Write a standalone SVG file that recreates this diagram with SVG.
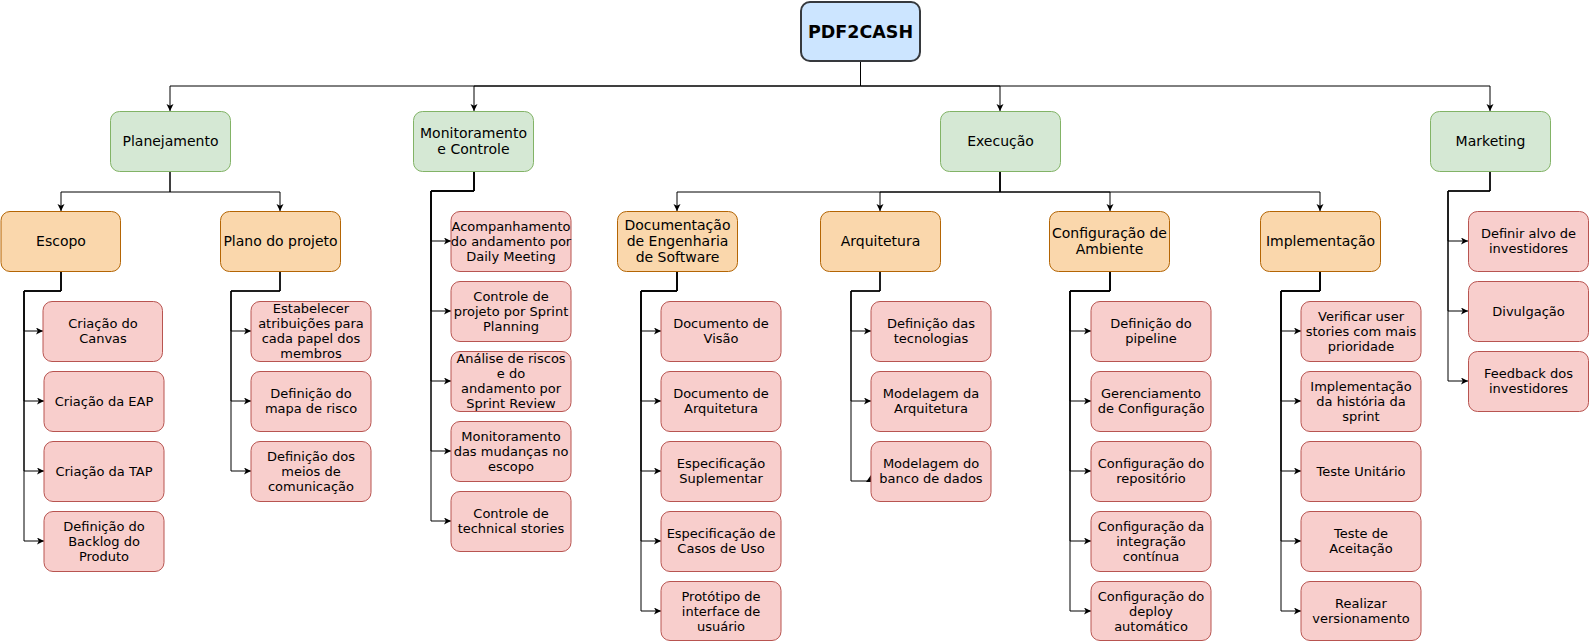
<svg xmlns="http://www.w3.org/2000/svg" width="1589" height="642" viewBox="0 0 1589 642">
<style>
.root{fill:#cce5ff;stroke:#36393d;stroke-width:2}
.g{fill:#d5e8d4;stroke:#82b366;stroke-width:1}
.o{fill:#fad7ac;stroke:#b46504;stroke-width:1}
.r{fill:#f8cecc;stroke:#b85450;stroke-width:1}
text{font-family:"DejaVu Sans","Liberation Sans",sans-serif;fill:#000;text-anchor:middle}
.t14{font-size:14px}
.t13{font-size:13px}
.tb{font-size:17.5px;font-weight:bold}
.e{fill:none;stroke:#000;stroke-width:1;marker-end:url(#arr)}
</style>
<defs>
<marker id="arr" markerWidth="10" markerHeight="10" refX="7" refY="3.5" orient="auto" markerUnits="userSpaceOnUse"><path d="M0,0 L7,3.5 L0,7 L1.8,3.5 Z" fill="#000"/></marker>
</defs>
<rect width="1589" height="642" fill="#fff"/>
<g id="connectors">
<path class="e" d="M860.5 62 V86 H170 V111"/>
<path class="e" d="M860.5 62 V86 H474 V111"/>
<path class="e" d="M860.5 62 V86 H1000 V111"/>
<path class="e" d="M860.5 62 V86 H1490 V111"/>
<path class="e" d="M170 171 V192 H61 V211"/>
<path class="e" d="M170 171 V192 H280 V211"/>
<path class="e" d="M1000 171 V192 H677 V211"/>
<path class="e" d="M1000 171 V192 H880 V211"/>
<path class="e" d="M1000 171 V192 H1110 V211"/>
<path class="e" d="M1000 171 V192 H1320 V211"/>
<path class="e" d="M61 271 V291 H24 V331 H43"/>
<path class="e" d="M61 271 V291 H24 V401 H44"/>
<path class="e" d="M61 271 V291 H24 V471 H44"/>
<path class="e" d="M61 271 V291 H24 V541 H44"/>
<path class="e" d="M280 271 V291 H231 V331 H251"/>
<path class="e" d="M280 271 V291 H231 V401 H251"/>
<path class="e" d="M280 271 V291 H231 V471 H251"/>
<path class="e" d="M474 171 V191 H431 V241 H451"/>
<path class="e" d="M474 171 V191 H431 V311 H451"/>
<path class="e" d="M474 171 V191 H431 V381 H451"/>
<path class="e" d="M474 171 V191 H431 V451 H451"/>
<path class="e" d="M474 171 V191 H431 V521 H451"/>
<path class="e" d="M677 271 V291 H641 V331 H661"/>
<path class="e" d="M677 271 V291 H641 V401 H661"/>
<path class="e" d="M677 271 V291 H641 V471 H661"/>
<path class="e" d="M677 271 V291 H641 V541 H661"/>
<path class="e" d="M677 271 V291 H641 V611 H661"/>
<path class="e" d="M880 271 V291 H851 V331 H871"/>
<path class="e" d="M880 271 V291 H851 V401 H871"/>
<path d="M880 271 V291 H851 V481 H868" fill="none" stroke="#000" stroke-width="1"/>
<path d="M866 482 L871 475 L871 482 Z" fill="#000"/>
<path class="e" d="M1110 271 V291 H1070 V331 H1091"/>
<path class="e" d="M1110 271 V291 H1070 V401 H1091"/>
<path class="e" d="M1110 271 V291 H1070 V471 H1091"/>
<path class="e" d="M1110 271 V291 H1070 V541 H1091"/>
<path class="e" d="M1110 271 V291 H1070 V611 H1091"/>
<path class="e" d="M1320 271 V291 H1281 V331 H1301"/>
<path class="e" d="M1320 271 V291 H1281 V401 H1301"/>
<path class="e" d="M1320 271 V291 H1281 V471 H1301"/>
<path class="e" d="M1320 271 V291 H1281 V541 H1301"/>
<path class="e" d="M1320 271 V291 H1281 V611 H1301"/>
<path class="e" d="M1490 171 V191 H1448 V241 H1468"/>
<path class="e" d="M1490 171 V191 H1448 V311 H1468"/>
<path class="e" d="M1490 171 V191 H1448 V381 H1468"/>
</g>
<g id="pdf2cash"><rect class="root" x="801" y="2" width="119" height="59" rx="9"/><text class="tb" x="860.5" y="38">PDF2CASH</text></g>
<g id="planejamento"><rect class="g" x="110.5" y="111.5" width="120" height="60" rx="9"/><text class="t14" x="170.5" y="146">Planejamento</text></g>
<g id="monitoramento"><rect class="g" x="413.5" y="111.5" width="120" height="60" rx="9"/><text class="t14"><tspan x="473.5" y="138">Monitoramento</tspan><tspan x="473.5" y="154">e Controle</tspan></text></g>
<g id="execucao"><rect class="g" x="940.5" y="111.5" width="120" height="60" rx="9"/><text class="t14" x="1000.5" y="146">Execução</text></g>
<g id="marketing"><rect class="g" x="1430.5" y="111.5" width="120" height="60" rx="9"/><text class="t14" x="1490.5" y="146">Marketing</text></g>
<g id="escopo"><rect class="o" x="1" y="211.5" width="119.5" height="60" rx="9"/><text class="t14" x="61" y="246">Escopo</text></g>
<g id="plano"><rect class="o" x="220.5" y="211.5" width="120" height="60" rx="9"/><text class="t14" x="280.5" y="246">Plano do projeto</text></g>
<g id="documentacao"><rect class="o" x="617.5" y="211.5" width="120" height="60" rx="9"/><text class="t14"><tspan x="677.5" y="230">Documentação</tspan><tspan x="677.5" y="246">de Engenharia</tspan><tspan x="677.5" y="262">de Software</tspan></text></g>
<g id="arquitetura"><rect class="o" x="820.5" y="211.5" width="120" height="60" rx="9"/><text class="t14" x="880.5" y="246">Arquitetura</text></g>
<g id="configuracao"><rect class="o" x="1049.5" y="211.5" width="120" height="60" rx="9"/><text class="t14"><tspan x="1109.5" y="238">Configuração de</tspan><tspan x="1109.5" y="254">Ambiente</tspan></text></g>
<g id="implementacao"><rect class="o" x="1260.5" y="211.5" width="120" height="60" rx="9"/><text class="t14" x="1320.5" y="246">Implementação</text></g>
<g id="canvas"><rect class="r" x="43" y="301.5" width="119.5" height="60" rx="9"/><text class="t13"><tspan x="103" y="328">Criação do</tspan><tspan x="103" y="343">Canvas</tspan></text></g>
<g id="eap"><rect class="r" x="44" y="371.5" width="120" height="60" rx="9"/><text class="t13" x="104" y="405.5">Criação da EAP</text></g>
<g id="tap"><rect class="r" x="44" y="441.5" width="120" height="60" rx="9"/><text class="t13" x="104" y="475.5">Criação da TAP</text></g>
<g id="backlog"><rect class="r" x="44" y="511.5" width="120" height="60" rx="9"/><text class="t13"><tspan x="104" y="530.5">Definição do</tspan><tspan x="104" y="545.5">Backlog do</tspan><tspan x="104" y="560.5">Produto</tspan></text></g>
<g id="atribuicoes"><rect class="r" x="251" y="301.5" width="120" height="60" rx="9"/><text class="t13"><tspan x="311" y="313">Estabelecer</tspan><tspan x="311" y="328">atribuições para</tspan><tspan x="311" y="343">cada papel dos</tspan><tspan x="311" y="358">membros</tspan></text></g>
<g id="mapa-risco"><rect class="r" x="251" y="371.5" width="120" height="60" rx="9"/><text class="t13"><tspan x="311" y="398">Definição do</tspan><tspan x="311" y="413">mapa de risco</tspan></text></g>
<g id="meios-comunicacao"><rect class="r" x="251" y="441.5" width="120" height="60" rx="9"/><text class="t13"><tspan x="311" y="460.5">Definição dos</tspan><tspan x="311" y="475.5">meios de</tspan><tspan x="311" y="490.5">comunicação</tspan></text></g>
<g id="daily"><rect class="r" x="451" y="211.5" width="120" height="60" rx="9"/><text class="t13"><tspan x="511" y="230.5">Acompanhamento</tspan><tspan x="511" y="245.5">do andamento por</tspan><tspan x="511" y="260.5">Daily Meeting</tspan></text></g>
<g id="planning"><rect class="r" x="451" y="281.5" width="120" height="60" rx="9"/><text class="t13"><tspan x="511" y="300.5">Controle de</tspan><tspan x="511" y="315.5">projeto por Sprint</tspan><tspan x="511" y="330.5">Planning</tspan></text></g>
<g id="review"><rect class="r" x="451" y="351.5" width="120" height="60" rx="9"/><text class="t13"><tspan x="511" y="363">Análise de riscos</tspan><tspan x="511" y="378">e do</tspan><tspan x="511" y="393">andamento por</tspan><tspan x="511" y="408">Sprint Review</tspan></text></g>
<g id="mudancas"><rect class="r" x="451" y="421.5" width="120" height="60" rx="9"/><text class="t13"><tspan x="511" y="440.5">Monitoramento</tspan><tspan x="511" y="455.5">das mudanças no</tspan><tspan x="511" y="470.5">escopo</tspan></text></g>
<g id="technical"><rect class="r" x="451" y="491.5" width="120" height="60" rx="9"/><text class="t13"><tspan x="511" y="518">Controle de</tspan><tspan x="511" y="533">technical stories</tspan></text></g>
<g id="visao"><rect class="r" x="661" y="301.5" width="120" height="60" rx="9"/><text class="t13"><tspan x="721" y="328">Documento de</tspan><tspan x="721" y="343">Visão</tspan></text></g>
<g id="doc-arq"><rect class="r" x="661" y="371.5" width="120" height="60" rx="9"/><text class="t13"><tspan x="721" y="398">Documento de</tspan><tspan x="721" y="413">Arquitetura</tspan></text></g>
<g id="suplementar"><rect class="r" x="661" y="441.5" width="120" height="60" rx="9"/><text class="t13"><tspan x="721" y="468">Especificação</tspan><tspan x="721" y="483">Suplementar</tspan></text></g>
<g id="casos-uso"><rect class="r" x="661" y="511.5" width="120" height="60" rx="9"/><text class="t13"><tspan x="721" y="538">Especificação de</tspan><tspan x="721" y="553">Casos de Uso</tspan></text></g>
<g id="prototipo"><rect class="r" x="661" y="581.5" width="120" height="59" rx="9"/><text class="t13"><tspan x="721" y="600.5">Protótipo de</tspan><tspan x="721" y="615.5">interface de</tspan><tspan x="721" y="630.5">usuário</tspan></text></g>
<g id="tecnologias"><rect class="r" x="871" y="301.5" width="120" height="60" rx="9"/><text class="t13"><tspan x="931" y="328">Definição das</tspan><tspan x="931" y="343">tecnologias</tspan></text></g>
<g id="modelagem-arq"><rect class="r" x="871" y="371.5" width="120" height="60" rx="9"/><text class="t13"><tspan x="931" y="398">Modelagem da</tspan><tspan x="931" y="413">Arquitetura</tspan></text></g>
<g id="banco"><rect class="r" x="871" y="441.5" width="120" height="60" rx="9"/><text class="t13"><tspan x="931" y="468">Modelagem do</tspan><tspan x="931" y="483">banco de dados</tspan></text></g>
<g id="pipeline"><rect class="r" x="1091" y="301.5" width="120" height="60" rx="9"/><text class="t13"><tspan x="1151" y="328">Definição do</tspan><tspan x="1151" y="343">pipeline</tspan></text></g>
<g id="gerenciamento"><rect class="r" x="1091" y="371.5" width="120" height="60" rx="9"/><text class="t13"><tspan x="1151" y="398">Gerenciamento</tspan><tspan x="1151" y="413">de Configuração</tspan></text></g>
<g id="repositorio"><rect class="r" x="1091" y="441.5" width="120" height="60" rx="9"/><text class="t13"><tspan x="1151" y="468">Configuração do</tspan><tspan x="1151" y="483">repositório</tspan></text></g>
<g id="integracao"><rect class="r" x="1091" y="511.5" width="120" height="60" rx="9"/><text class="t13"><tspan x="1151" y="530.5">Configuração da</tspan><tspan x="1151" y="545.5">integração</tspan><tspan x="1151" y="560.5">contínua</tspan></text></g>
<g id="deploy"><rect class="r" x="1091" y="581.5" width="120" height="59" rx="9"/><text class="t13"><tspan x="1151" y="600.5">Configuração do</tspan><tspan x="1151" y="615.5">deploy</tspan><tspan x="1151" y="630.5">automático</tspan></text></g>
<g id="user-stories"><rect class="r" x="1301" y="301.5" width="120" height="60" rx="9"/><text class="t13"><tspan x="1361" y="320.5">Verificar user</tspan><tspan x="1361" y="335.5">stories com mais</tspan><tspan x="1361" y="350.5">prioridade</tspan></text></g>
<g id="historia"><rect class="r" x="1301" y="371.5" width="120" height="60" rx="9"/><text class="t13"><tspan x="1361" y="390.5">Implementação</tspan><tspan x="1361" y="405.5">da história da</tspan><tspan x="1361" y="420.5">sprint</tspan></text></g>
<g id="unitario"><rect class="r" x="1301" y="441.5" width="120" height="60" rx="9"/><text class="t13" x="1361" y="475.5">Teste Unitário</text></g>
<g id="aceitacao"><rect class="r" x="1301" y="511.5" width="120" height="60" rx="9"/><text class="t13"><tspan x="1361" y="538">Teste de</tspan><tspan x="1361" y="553">Aceitação</tspan></text></g>
<g id="versionamento"><rect class="r" x="1301" y="581.5" width="120" height="59" rx="9"/><text class="t13"><tspan x="1361" y="608">Realizar</tspan><tspan x="1361" y="623">versionamento</tspan></text></g>
<g id="alvo"><rect class="r" x="1468.5" y="211.5" width="120" height="60" rx="9"/><text class="t13"><tspan x="1528.5" y="238">Definir alvo de</tspan><tspan x="1528.5" y="253">investidores</tspan></text></g>
<g id="divulgacao"><rect class="r" x="1468.5" y="281.5" width="120" height="60" rx="9"/><text class="t13" x="1528.5" y="315.5">Divulgação</text></g>
<g id="feedback"><rect class="r" x="1468.5" y="351.5" width="120" height="60" rx="9"/><text class="t13"><tspan x="1528.5" y="378">Feedback dos</tspan><tspan x="1528.5" y="393">investidores</tspan></text></g>
</svg>
